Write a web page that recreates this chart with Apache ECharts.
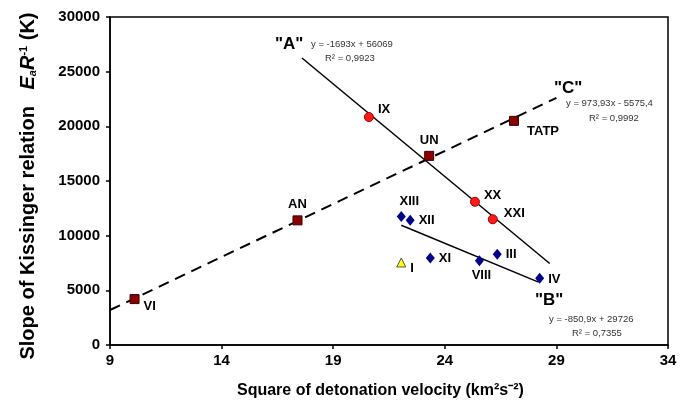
<!DOCTYPE html>
<html>
<head>
<meta charset="utf-8">
<script src="https://cdn.jsdelivr.net/npm/echarts@6/dist/echarts.min.js"></script>
<style>
  html, body { margin: 0; padding: 0; background: #fff; }
  #chart { width: 691px; height: 410px; }
</style>
</head>
<body>
<div id="chart"></div>
<script>
// explosives, grouped by marker type
const squareNames = ["VI", "AN", "UN", "TATP"];
const squareX = [10.1, 17.4, 23.3, 27.1];
const squareY = [4200, 11400, 17300, 20500];

const circleNames = ["IX", "XX", "XXI"];
const circleX = [20.6, 25.35, 26.15];
const circleY = [20850, 13100, 11500];

const diamondNames = ["XIII", "XII", "XI", "VIII", "III", "IV"];
const diamondX = [22.05, 22.45, 23.35, 25.55, 26.35, 28.25];
const diamondY = [11750, 11400, 7950, 7700, 8300, 6100];

const triangleNames = ["I"];
const triangleX = [22.05];
const triangleY = [7550];

// trend line ends
const lineAX = [17.6, 28.7];
const lineAY = [26250, 7450];
const lineBX = [22.05, 28.2];
const lineBY = [10950, 5750];
const lineCX = [9, 29];
const lineCY = [3200, 22600];

const xTicks = [9, 14, 19, 24, 29, 34];
const yTicks = [0, 5000, 10000, 15000, 20000, 25000, 30000];

// where each point label sits
const labelPos = {
  VI: ["right", [0, 7]],
  AN: ["top", [0, 0]],
  UN: ["top", [0, 0]],
  TATP: ["right", [4, 11]],
  IX: ["right", [0, -8]],
  XX: ["right", [0, -6]],
  XXI: ["right", [2, -6]],
  XIII: ["top", [8, 1]],
  XII: ["right", [0, 0]],
  XI: ["right", [0, 0]],
  VIII: ["bottom", [2, -1]],
  III: ["right", [0, 0]],
  IV: ["right", [0, 1]],
  I: ["right", [0, 6]]
};

const font = "'Liberation Sans', Arial, sans-serif";

function pts(names, xs, ys) {
  return names.map((n, i) => ({
    name: n,
    value: [xs[i], ys[i]],
    label: { position: labelPos[n][0], offset: labelPos[n][1] }
  }));
}
function line(xs, ys) {
  return xs.map((x, i) => [x, ys[i]]);
}

const pointLabel = {
  show: true,
  formatter: p => p.name,
  color: "#000",
  fontFamily: font,
  fontWeight: "bold",
  fontSize: 13,
  distance: 4
};

const nameBase = { fontSize: 20, fontWeight: "bold", color: "#000", fontFamily: font };

const chart = echarts.init(document.getElementById("chart"));
chart.setOption({
  animation: false,
  backgroundColor: "#fff",
  textStyle: { fontFamily: font },
  grid: {
    left: 110, right: 23, top: 17, bottom: 65,
    show: true, borderColor: "#000", borderWidth: 1.5
  },
  xAxis: {
    type: "value",
    min: xTicks[0], max: xTicks[xTicks.length - 1], interval: 5,
    axisLine: { lineStyle: { color: "#000", width: 1.5 } },
    axisTick: { show: true, length: 4, lineStyle: { color: "#000", width: 1.5 } },
    axisLabel: { color: "#000", fontWeight: "bold", fontSize: 15, margin: 8, fontFamily: font },
    splitLine: { show: false }
  },
  yAxis: {
    type: "value",
    min: yTicks[0], max: yTicks[yTicks.length - 1], interval: 5000,
    axisLine: { show: true, lineStyle: { color: "#000", width: 1.5 } },
    axisTick: { show: true, length: 4, lineStyle: { color: "#000", width: 1.5 } },
    axisLabel: {
      color: "#000", fontWeight: "bold", fontSize: 15, margin: 10, fontFamily: font,
      formatter: v => String(v)
    },
    splitLine: { show: false },
    name: "{n|Slope of Kissinger relation   }{i|E}{sub|a}{i|R}{sup|-1}{n| (K)}",
    nameLocation: "middle",
    nameRotate: 90,
    nameGap: 72,
    nameTextStyle: {
      padding: [0, 10, 0, 0],
      rich: {
        n: nameBase,
        i: Object.assign({}, nameBase, { fontStyle: "italic" }),
        sub: Object.assign({}, nameBase, { fontSize: 11, fontStyle: "italic", verticalAlign: "bottom", padding: [9, 0, 0, 0] }),
        sup: Object.assign({}, nameBase, { fontSize: 11, verticalAlign: "top", padding: [0, 0, 9, 0] })
      }
    }
  },
  series: [
    {
      type: "line", data: line(lineCX, lineCY), symbol: "none",
      lineStyle: { color: "#000", width: 2, type: [11, 7] }, z: 1
    },
    {
      type: "line", data: line(lineAX, lineAY), symbol: "none",
      lineStyle: { color: "#000", width: 1.5 }, z: 1
    },
    {
      type: "line", data: line(lineBX, lineBY), symbol: "none",
      lineStyle: { color: "#000", width: 1.5 }, z: 1
    },
    {
      type: "scatter", data: pts(squareNames, squareX, squareY),
      symbol: "rect", symbolSize: 9,
      itemStyle: { color: "#8b0000", borderColor: "#3a0000", borderWidth: 1, opacity: 1 },
      label: pointLabel, z: 3
    },
    {
      type: "scatter", data: pts(circleNames, circleX, circleY),
      symbol: "circle", symbolSize: 9,
      itemStyle: { color: "#ff1a1a", borderColor: "#a00000", borderWidth: 1, opacity: 1 },
      label: pointLabel, z: 3
    },
    {
      type: "scatter", data: pts(diamondNames, diamondX, diamondY),
      symbol: "diamond", symbolSize: [9, 11],
      itemStyle: { color: "#00008b", opacity: 1 },
      label: pointLabel, z: 3
    },
    {
      type: "scatter", data: pts(triangleNames, triangleX, triangleY),
      symbol: "triangle", symbolSize: 9,
      itemStyle: { color: "#ffff00", borderColor: "#555", borderWidth: 1, opacity: 1 },
      label: pointLabel, z: 3
    }
  ],
  graphic: [
    { type: "text", left: 237, top: 383, style: { text: "Square of detonation velocity (km²s⁻²)", font: "bold 16px " + font, fill: "#000" } },
    { type: "text", left: 275, top: 36, style: { text: '"A"', font: "bold 17px " + font, fill: "#000" } },
    { type: "text", left: 311, top: 39, style: { text: "y = -1693x + 56069", font: "9.5px " + font, fill: "#333" } },
    { type: "text", left: 325, top: 53, style: { text: "R² = 0,9923", font: "9.5px " + font, fill: "#333" } },
    { type: "text", left: 554, top: 80, style: { text: '"C"', font: "bold 17px " + font, fill: "#000" } },
    { type: "text", left: 566, top: 98, style: { text: "y = 973,93x - 5575,4", font: "9.5px " + font, fill: "#333" } },
    { type: "text", left: 589, top: 113, style: { text: "R² = 0,9992", font: "9.5px " + font, fill: "#333" } },
    { type: "text", left: 535, top: 292, style: { text: '"B"', font: "bold 17px " + font, fill: "#000" } },
    { type: "text", left: 549, top: 314, style: { text: "y = -850,9x + 29726", font: "9.5px " + font, fill: "#333" } },
    { type: "text", left: 572, top: 328, style: { text: "R² = 0,7355", font: "9.5px " + font, fill: "#333" } }
  ]
});
</script>
</body>
</html>
